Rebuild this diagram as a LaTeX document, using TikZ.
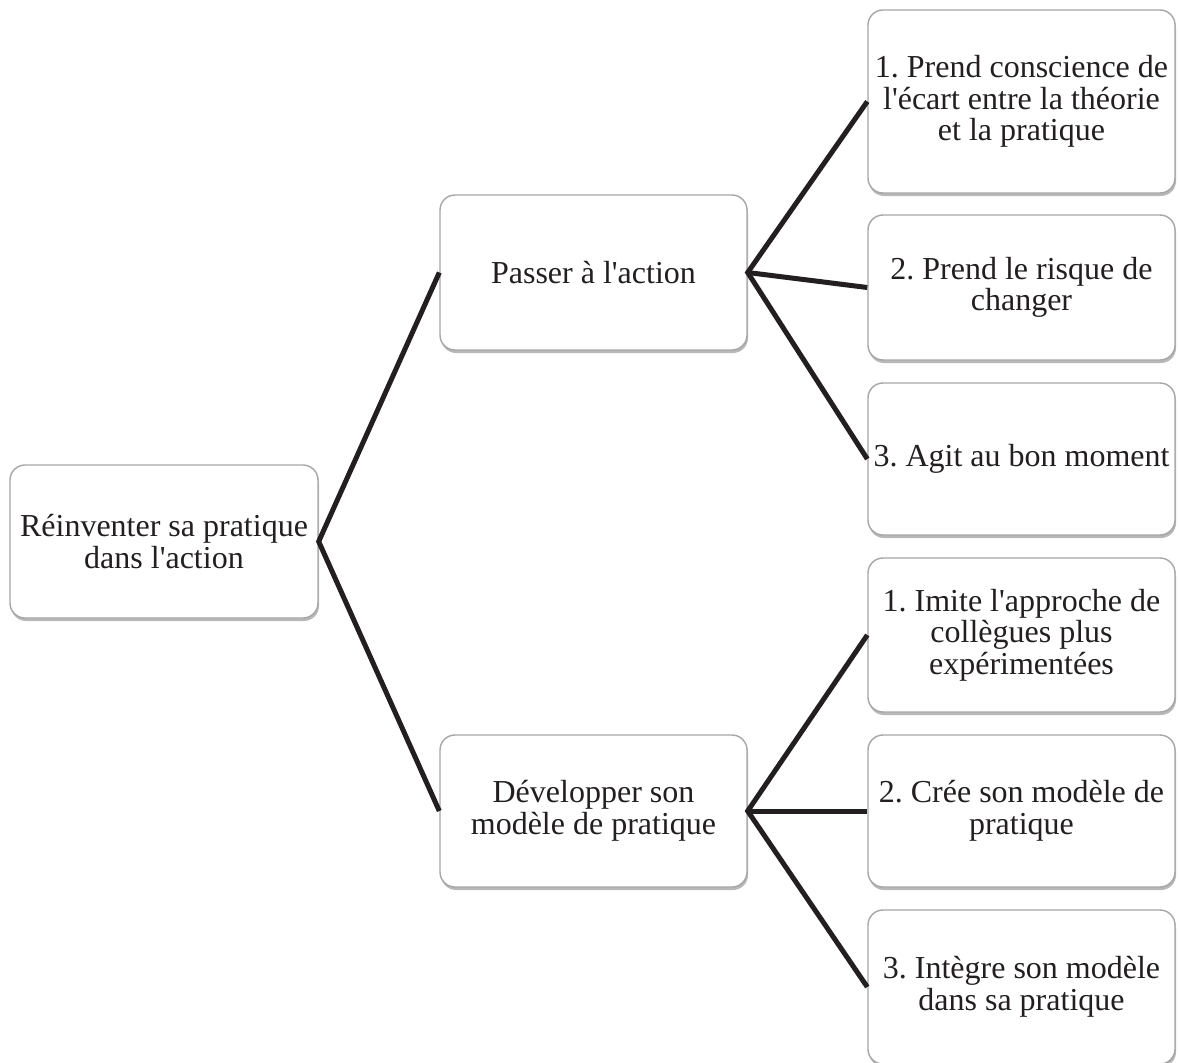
\documentclass[tikz,border=0pt]{standalone}
\usepackage{fontspec}
\setmainfont{Liberation Serif}
\usetikzlibrary{shadows}
\definecolor{ink}{HTML}{231F20}
\definecolor{boxline}{HTML}{A6A6A6}
% straight typewriter apostrophe
\newcommand{\ap}{\textquotesingle}
\tikzset{
  card/.style={draw=boxline, line width=1.4pt, fill=white, rounded corners=15pt,
    inner sep=0pt, align=center, text=ink,
    font=\frenchspacing\fontsize{32pt}{31.5pt}\selectfont,
    drop shadow={shadow xshift=1pt, shadow yshift=-3pt, fill=black, opacity=0.28}},
  link/.style={draw=ink, line width=5pt}
}
\begin{document}
\frenchspacing
\begin{tikzpicture}[x=1pt, y=-1pt]
  \useasboundingbox (0,0) rectangle (1179,1063);

  % root
  \node[card, minimum width=308pt, minimum height=153pt] (root) at (164,541.5)
    {Réinventer sa pratique\\dans l\ap action};

  % second level
  \node[card, minimum width=307pt, minimum height=155pt] (act) at (593.5,272.5)
    {Passer à l\ap action};
  \node[card, minimum width=307pt, minimum height=152pt] (dev) at (593.5,811)
    {Développer son\\modèle de pratique};

  % leaves of "Passer à l'action"
  \node[card, minimum width=307pt, minimum height=183pt] (a1) at (1021.5,101.5)
    {1. Prend conscience de\\l\ap écart entre la théorie\\et la pratique};
  \node[card, minimum width=307pt, minimum height=145pt] (a2) at (1021.5,287.5)
    {2. Prend le risque de\\changer};
  \node[card, minimum width=307pt, minimum height=152pt] (a3) at (1021.5,459)
    {3. Agit au bon moment};

  % leaves of "Développer son modèle de pratique"
  \node[card, minimum width=307pt, minimum height=154pt] (b1) at (1021.5,635)
    {1. Imite l\ap approche de\\collègues plus\\expérimentées};
  \node[card, minimum width=307pt, minimum height=152pt] (b2) at (1021.5,811)
    {2. Crée son modèle de\\pratique};
  \node[card, minimum width=307pt, minimum height=154pt] (b3) at (1021.5,987)
    {3. Intègre son modèle\\dans sa pratique};

  % connectors
  \draw[link] (act.west) -- (root.east) -- (dev.west);
  \draw[link] (a1.west) -- (act.east) -- (a3.west);
  \draw[link] (act.east) -- (a2.west);
  \draw[link] (b1.west) -- (dev.east) -- (b3.west);
  \draw[link] (dev.east) -- (b2.west);
\end{tikzpicture}
\end{document}
